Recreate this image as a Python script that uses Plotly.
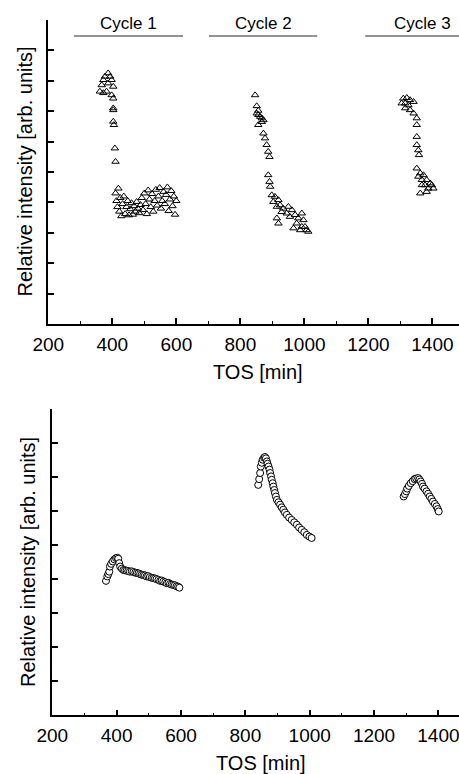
import plotly.graph_objects as go

# ---------------- data ----------------
# Top panel: triangles
tri_x = [361, 367, 372, 372, 377, 382, 387, 387, 393, 398, 398, 403, 403,
         403, 403, 403, 405, 408, 410,
         410, 413, 416, 419, 422, 425, 428, 432, 436, 440, 444, 448, 452, 456, 460, 464,
         468, 472, 476, 480, 484, 488, 492, 496, 500, 504, 508, 512, 516, 520, 524, 528,
         532, 536, 540, 544, 548, 552, 556, 560, 564, 568, 572, 576, 580, 584, 588, 592,
         596, 600,
         846, 851, 851, 856, 856, 856, 862, 867, 867, 872, 872, 877, 882, 887, 887, 891,
         891, 893, 898, 903, 908, 914, 914, 919, 919, 924, 929, 934, 945, 950, 955, 961,
         966, 971, 976, 981, 987, 992, 992, 997, 1002, 1007, 1012,
         1304, 1309, 1315, 1315, 1320, 1325, 1330, 1330, 1341, 1341, 1351, 1351, 1351,
         1351, 1356, 1358, 1351, 1356, 1362, 1362, 1367, 1367, 1372, 1377, 1382, 1382,
         1387, 1393, 1398, 1403]
tri_y = [7.65, 7.86, 8.03, 7.60, 8.14, 7.65, 8.25, 7.92, 8.14, 8.03, 7.53, 7.81, 7.42,
         7.10, 7.04, 6.66, 6.55, 5.78, 5.34,
         4.30, 4.05, 3.85, 4.46, 3.70, 4.15, 3.55, 3.95, 4.20, 3.62, 3.85, 4.05, 3.58, 3.78,
         3.98, 3.60, 3.88, 3.70, 4.02, 3.80, 3.65, 3.92, 4.15, 3.75, 4.30, 3.95, 3.62, 4.40,
         4.10, 3.85, 4.28, 3.70, 4.05, 4.42, 3.90, 4.20, 4.48, 3.80, 4.05, 4.35, 3.95, 4.25,
         4.50, 3.72, 4.10, 4.38, 3.88, 4.20, 3.60, 4.05,
         7.53, 7.17, 6.93, 7.02, 6.88, 6.55, 6.82, 6.77, 6.65, 6.71, 6.27, 6.11, 5.89, 5.67,
         4.90, 5.50, 4.68, 4.52, 4.24, 4.02, 4.19, 3.86, 3.48, 4.08, 3.31, 3.91, 3.69, 3.80,
         3.64, 3.86, 3.53, 3.75, 3.15, 3.59, 3.31, 3.48, 3.09, 3.64, 3.20, 3.42, 3.20, 3.09,
         3.04,
         7.26, 7.42, 7.26, 7.10, 7.44, 7.20, 7.37, 7.04, 7.31, 6.93, 6.77, 6.55, 6.16,
         5.89, 5.72, 5.56, 5.12, 4.85, 4.96, 4.30, 4.74, 4.57, 4.90, 4.57, 4.74, 4.35,
         4.46, 4.63, 4.57, 4.46]

# Bottom panel: circles
circ_x = [367, 371, 374, 377, 379, 383, 388, 393, 398, 402, 405, 408, 411, 416, 421,
          426, 431, 436, 441, 447, 452, 458, 463, 468, 473, 478, 483, 488, 493, 498, 503,
          509, 514, 519, 524, 530, 535, 540, 545, 551, 556, 561, 566, 571, 576, 581, 586,
          591, 595,
          840, 843, 846, 848, 851, 854, 858, 861, 864, 867, 869, 872, 875, 877, 880, 882,
          885, 887, 890, 892, 895, 898, 903, 908, 913, 918, 923, 929, 936, 944, 952, 960,
          967, 975, 983, 991, 999, 1006,
          1292, 1296, 1300, 1303, 1308, 1314, 1320, 1326, 1331, 1337, 1341, 1345, 1349,
          1352, 1357, 1363, 1368, 1373, 1378, 1383, 1389, 1394, 1398, 1401]
circ_y = [3.95, 4.08, 4.15, 4.22, 4.37, 4.45, 4.52, 4.58, 4.62, 4.63, 4.60, 4.47, 4.37,
          4.31, 4.27, 4.26, 4.25, 4.24, 4.22, 4.23, 4.21, 4.19, 4.18, 4.17, 4.15, 4.13,
          4.12, 4.11, 4.08, 4.09, 4.06, 4.04, 4.03, 4.02, 4.00, 3.98, 3.95, 3.96, 3.93,
          3.91, 3.88, 3.89, 3.86, 3.84, 3.83, 3.82, 3.79, 3.78, 3.75,
          6.77, 6.94, 7.12, 7.31, 7.42, 7.51, 7.57, 7.59, 7.55, 7.46, 7.39, 7.31, 7.22,
          7.12, 7.02, 6.92, 6.82, 6.72, 6.62, 6.53, 6.43, 6.33, 6.26, 6.19, 6.11, 6.04,
          5.96, 5.89, 5.81, 5.74, 5.67, 5.60, 5.52, 5.45, 5.38, 5.30, 5.25, 5.21,
          6.43, 6.50, 6.58, 6.66, 6.74, 6.82, 6.88, 6.94, 6.96, 6.97, 6.93, 6.87, 6.80,
          6.72, 6.66, 6.58, 6.51, 6.43, 6.36, 6.28, 6.21, 6.14, 6.06, 5.99]

x_ticks = [200, 400, 600, 800, 1000, 1200, 1400]
cycle_labels = ["Cycle 1", "Cycle 2", "Cycle 3"]
cycle_start = [280, 702, 1190]
cycle_end = [621, 1040, 1546]

FONT = "Arial, Liberation Sans, sans-serif"

fig = go.Figure()
fig.add_trace(go.Scatter(
    x=tri_x, y=tri_y, mode="markers", xaxis="x", yaxis="y",
    marker=dict(symbol="triangle-up-open", size=6.5, color="black",
                line=dict(width=1, color="black")),
    showlegend=False))
fig.add_trace(go.Scatter(
    x=circ_x, y=circ_y, mode="markers", xaxis="x2", yaxis="y2",
    marker=dict(symbol="circle", size=7, color="white",
                line=dict(width=1, color="black")),
    showlegend=False))

axis_common = dict(showline=True, linecolor="black", linewidth=1.5,
                   ticks="inside", tickcolor="black", tickwidth=1.5,
                   showgrid=False, zeroline=False, automargin=False)

xcommon = dict(axis_common, tickvals=x_ticks, ticklen=6,
               tickfont=dict(family=FONT, size=19, color="black"),
               minor=dict(dtick=100, tick0=200, ticks="inside", ticklen=3,
                          tickcolor="black", tickwidth=1.2, showgrid=False),
               ticklabeloverflow="allow", ticklabelstandoff=2)
ycommon = dict(axis_common, dtick=1, tick0=0, ticklen=6, showticklabels=False)

fig.update_layout(
    template="none",
    width=459, height=774,
    margin=dict(l=0, r=0, t=0, b=0, pad=0),
    paper_bgcolor="white", plot_bgcolor="white",
    xaxis=dict(xcommon, domain=[48.3 / 459, 1], range=[200, 1483], anchor="y"),
    yaxis=dict(ycommon, domain=[1 - 324 / 774, 1 - 20 / 774], range=[0, 10], anchor="x"),
    xaxis2=dict(xcommon, domain=[52.3 / 459, 1], range=[200, 1464], anchor="y2"),
    yaxis2=dict(ycommon, domain=[1 - 715.3 / 774, 1 - 409 / 774], range=[0, 9], anchor="x2"),
)

# cycle markers (top panel)
for lab, s, e in zip(cycle_labels, cycle_start, cycle_end):
    fig.add_shape(type="line", xref="x", yref="y", x0=s, x1=e, y0=9.47, y1=9.47,
                  line=dict(color="#707070", width=1.5))
    fig.add_annotation(x=(s + e) / 2, y=9.9, xref="x", yref="y", text=lab,
                       xanchor="center", yanchor="middle",
                       showarrow=False, font=dict(family=FONT, size=17, color="black"))

# axis titles
title_font = dict(family=FONT, size=20, color="black")
common_ann = dict(xref="paper", yref="paper", showarrow=False, font=title_font,
                  xanchor="center", yanchor="middle")
fig.add_annotation(x=257.5 / 459, y=1 - 371.7 / 774, text="TOS [min]", **common_ann)
fig.add_annotation(x=260.8 / 459, y=1 - 763 / 774, text="TOS [min]", **common_ann)
fig.add_annotation(x=24.5 / 459, y=1 - 172 / 774, text="Relative intensity [arb. units]",
                   textangle=-90, **common_ann)
fig.add_annotation(x=28 / 459, y=1 - 562 / 774, text="Relative intensity [arb. units]",
                   textangle=-90, **common_ann)

fig.write_html("out.html")
